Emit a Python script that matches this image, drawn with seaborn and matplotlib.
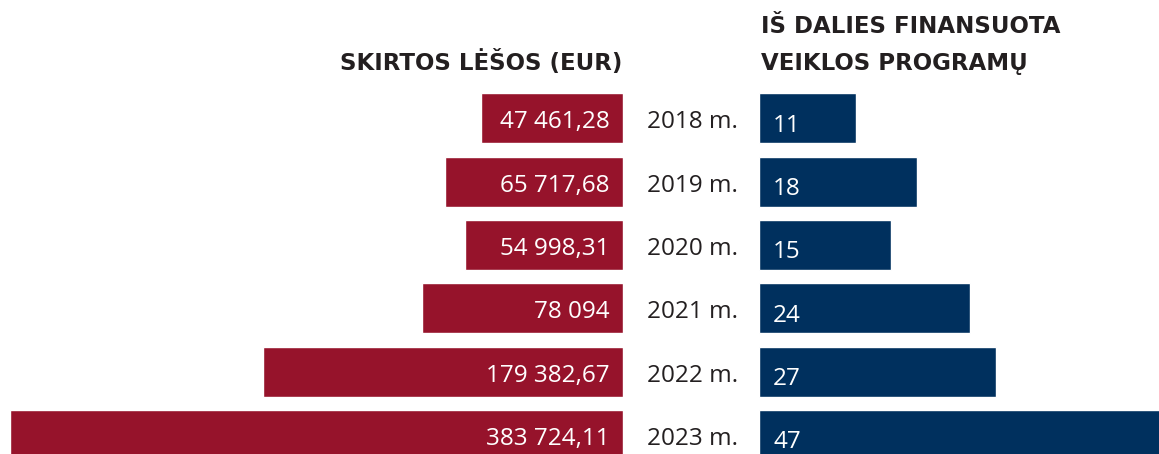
import seaborn as sns
import matplotlib.pyplot as plt
import numpy as np
import pandas as pd

# data
years = ['2018 m.', '2019 m.', '2020 m.', '2021 m.', '2022 m.', '2023 m.']
lesos = [47461.28, 65717.68, 54998.31, 78094, 179382.67, 383724.11]
lesos_labels = ['47 461,28', '65 717,68', '54 998,31', '78 094', '179 382,67', '383 724,11']
programos = [11, 18, 15, 24, 27, 47]

df = pd.DataFrame({'metai': years, 'lesos': lesos, 'programos': programos})

RED = '#96132b'
NAVY = '#00305e'
TEXT = '#231f20'

sns.set_style('white')
plt.rcParams['font.family'] = ['Open Sans', 'DejaVu Sans']

W, H = 1159, 454
fig = plt.figure(figsize=(W / 100, H / 100), dpi=100)

# two panels: money on the left (growing leftwards), programme count on the right
ax_l = fig.add_axes([0, 0, 622.7 / W, 1])
ax_r = fig.add_axes([759.3 / W, 0, (W - 759.3) / W, 1])

sns.barplot(data=df, x='lesos', y='metai', orient='h', color=RED, width=0.79,
            saturation=1, errorbar=None, ax=ax_l)
sns.barplot(data=df, x='programos', y='metai', orient='h', color=NAVY, width=0.79,
            saturation=1, errorbar=None, ax=ax_r)

# the original compresses the large sums, roughly a 0.7 power scale
pw = 0.7
ax_l.set_xscale('function', functions=(lambda x: np.power(np.clip(x, 0, None), pw),
                                       lambda x: np.power(np.clip(x, 0, None), 1 / pw)))
ax_l.set_xlim(max(lesos) * (622.7 / 612.7) ** (1 / pw), 0)
ax_r.set_xlim(0, (W - 759.3) / 8.78)

for ax in (ax_l, ax_r):
    ax.set_ylim(5.303, -1.869)
    ax.axis('off')

lab_kw = dict(textcoords='offset points', va='baseline', fontsize=17.5, annotation_clip=False)
for i, (lab, n) in enumerate(zip(lesos_labels, programos)):
    ax_l.annotate(lab, xy=(0, i), xytext=(-9.6, -7.2), ha='right', color='white', **lab_kw)
    ax_r.annotate(str(n), xy=(0, i), xytext=(9.9, -9.6), ha='left', color='white', **lab_kw)
    ax_l.annotate(years[i], xy=(692.8 / W, i), xycoords=('figure fraction', 'data'),
                  xytext=(0, -7.2), ha='center', color=TEXT, **lab_kw)

head_kw = dict(va='baseline', fontsize=16.5, fontweight='bold', family='DejaVu Sans', color=TEXT)
fig.text(622 / W, 1 - 70 / H, 'SKIRTOS LĖŠOS (EUR)', ha='right', **head_kw)
fig.text(761 / W, 1 - 33.3 / H, 'IŠ DALIES FINANSUOTA', ha='left', **head_kw)
fig.text(761 / W, 1 - 70 / H, 'VEIKLOS PROGRAMŲ', ha='left', **head_kw)

fig.savefig('out.png', dpi=100)
